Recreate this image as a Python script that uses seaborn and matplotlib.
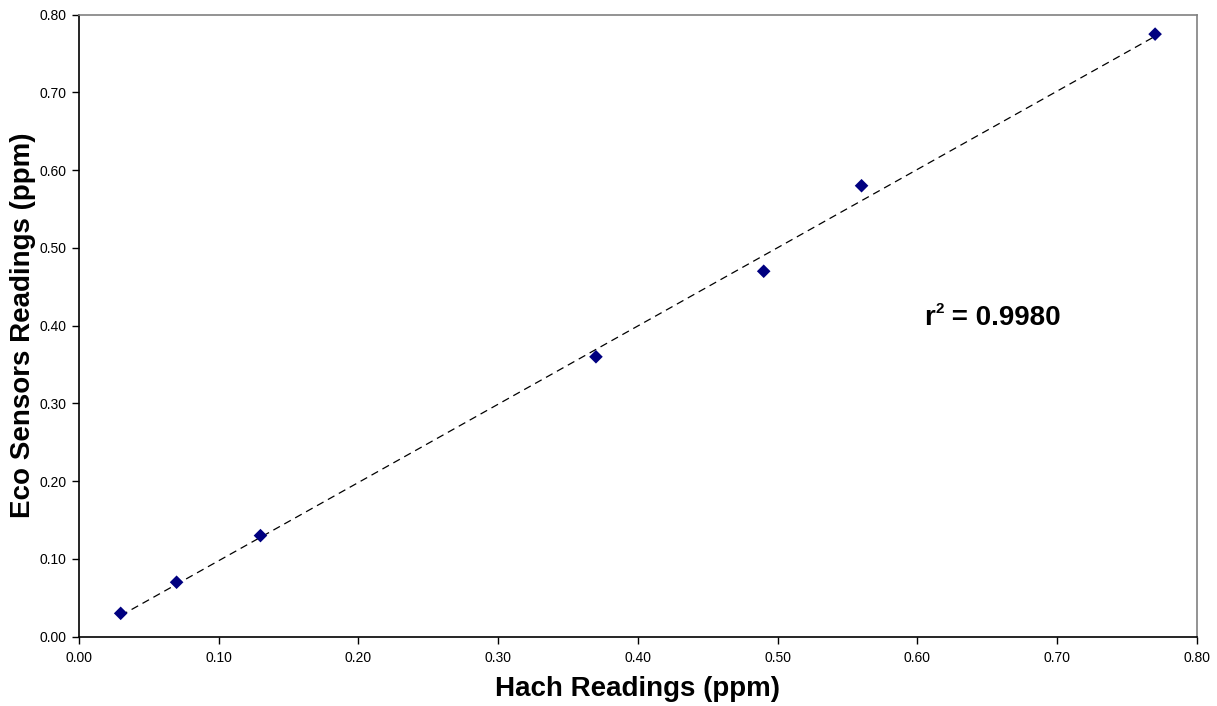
import matplotlib
matplotlib.use("Agg")
import matplotlib.pyplot as plt
import seaborn as sns
import pandas as pd

# Data
hach = [0.03, 0.07, 0.13, 0.37, 0.49, 0.56, 0.77]
eco = [0.03, 0.07, 0.13, 0.36, 0.47, 0.58, 0.775]
tick_vals = [0.0, 0.1, 0.2, 0.3, 0.4, 0.5, 0.6, 0.7, 0.8]
r2_text = "0.9980"

sns.set_theme(style="white")
plt.rcParams['font.family'] = ['Liberation Sans', 'DejaVu Sans']

df = pd.DataFrame({"Hach": hach, "Eco": eco})

fig = plt.figure(figsize=(12.17, 7.06), dpi=100)
ax = fig.add_axes([0.0647, 0.0982, 0.9189, 0.881])

sns.regplot(data=df, x="Hach", y="Eco", ax=ax, ci=None, marker="D",
            scatter_kws=dict(s=48, color="#000080", edgecolor="none", alpha=1, zorder=3),
            line_kws=dict(color="black", linestyle=(0, (6, 4)), linewidth=0.9, zorder=2))

ax.set_xlim(0, 0.8)
ax.set_ylim(0, 0.8)
ax.set_xticks(tick_vals)
ax.set_yticks(tick_vals)
ax.set_xticklabels([f"{v:.2f}" for v in tick_vals])
ax.set_yticklabels([f"{v:.2f}" for v in tick_vals])
ax.tick_params(axis="both", which="major", direction="out", length=5, width=1,
               color="black", labelsize=10, labelcolor="black", bottom=True, left=True, pad=4)
ax.tick_params(axis="x", pad=5)

for side in ["left", "bottom"]:
    ax.spines[side].set_color("black")
    ax.spines[side].set_linewidth(1.2)
for side in ["top", "right"]:
    ax.spines[side].set_color("#808080")
    ax.spines[side].set_linewidth(1.2)

ax.set_xlabel("Hach Readings (ppm)", fontsize=20, fontweight="bold", labelpad=8.5, color="black")
ax.set_ylabel("Eco Sensors Readings (ppm)", fontsize=20, fontweight="bold", labelpad=2, color="black")

t1 = ax.text(0.605, 0.401, "r", fontsize=20, fontweight="bold",
             ha="left", va="baseline", color="black")
t2 = ax.annotate("2", xy=(1, 0), xycoords=t1, xytext=(0.5, 10.6), textcoords="offset points",
                 fontsize=11, fontweight="bold", ha="left", va="bottom", color="black")
t3 = ax.annotate(" = " + r2_text, xy=(1, 0), xycoords=(t2, t1), xytext=(0, 0),
                 textcoords="offset points", fontsize=20, fontweight="bold",
                 ha="left", va="bottom", color="black")

fig.savefig("out.png", dpi=100, facecolor="white")
